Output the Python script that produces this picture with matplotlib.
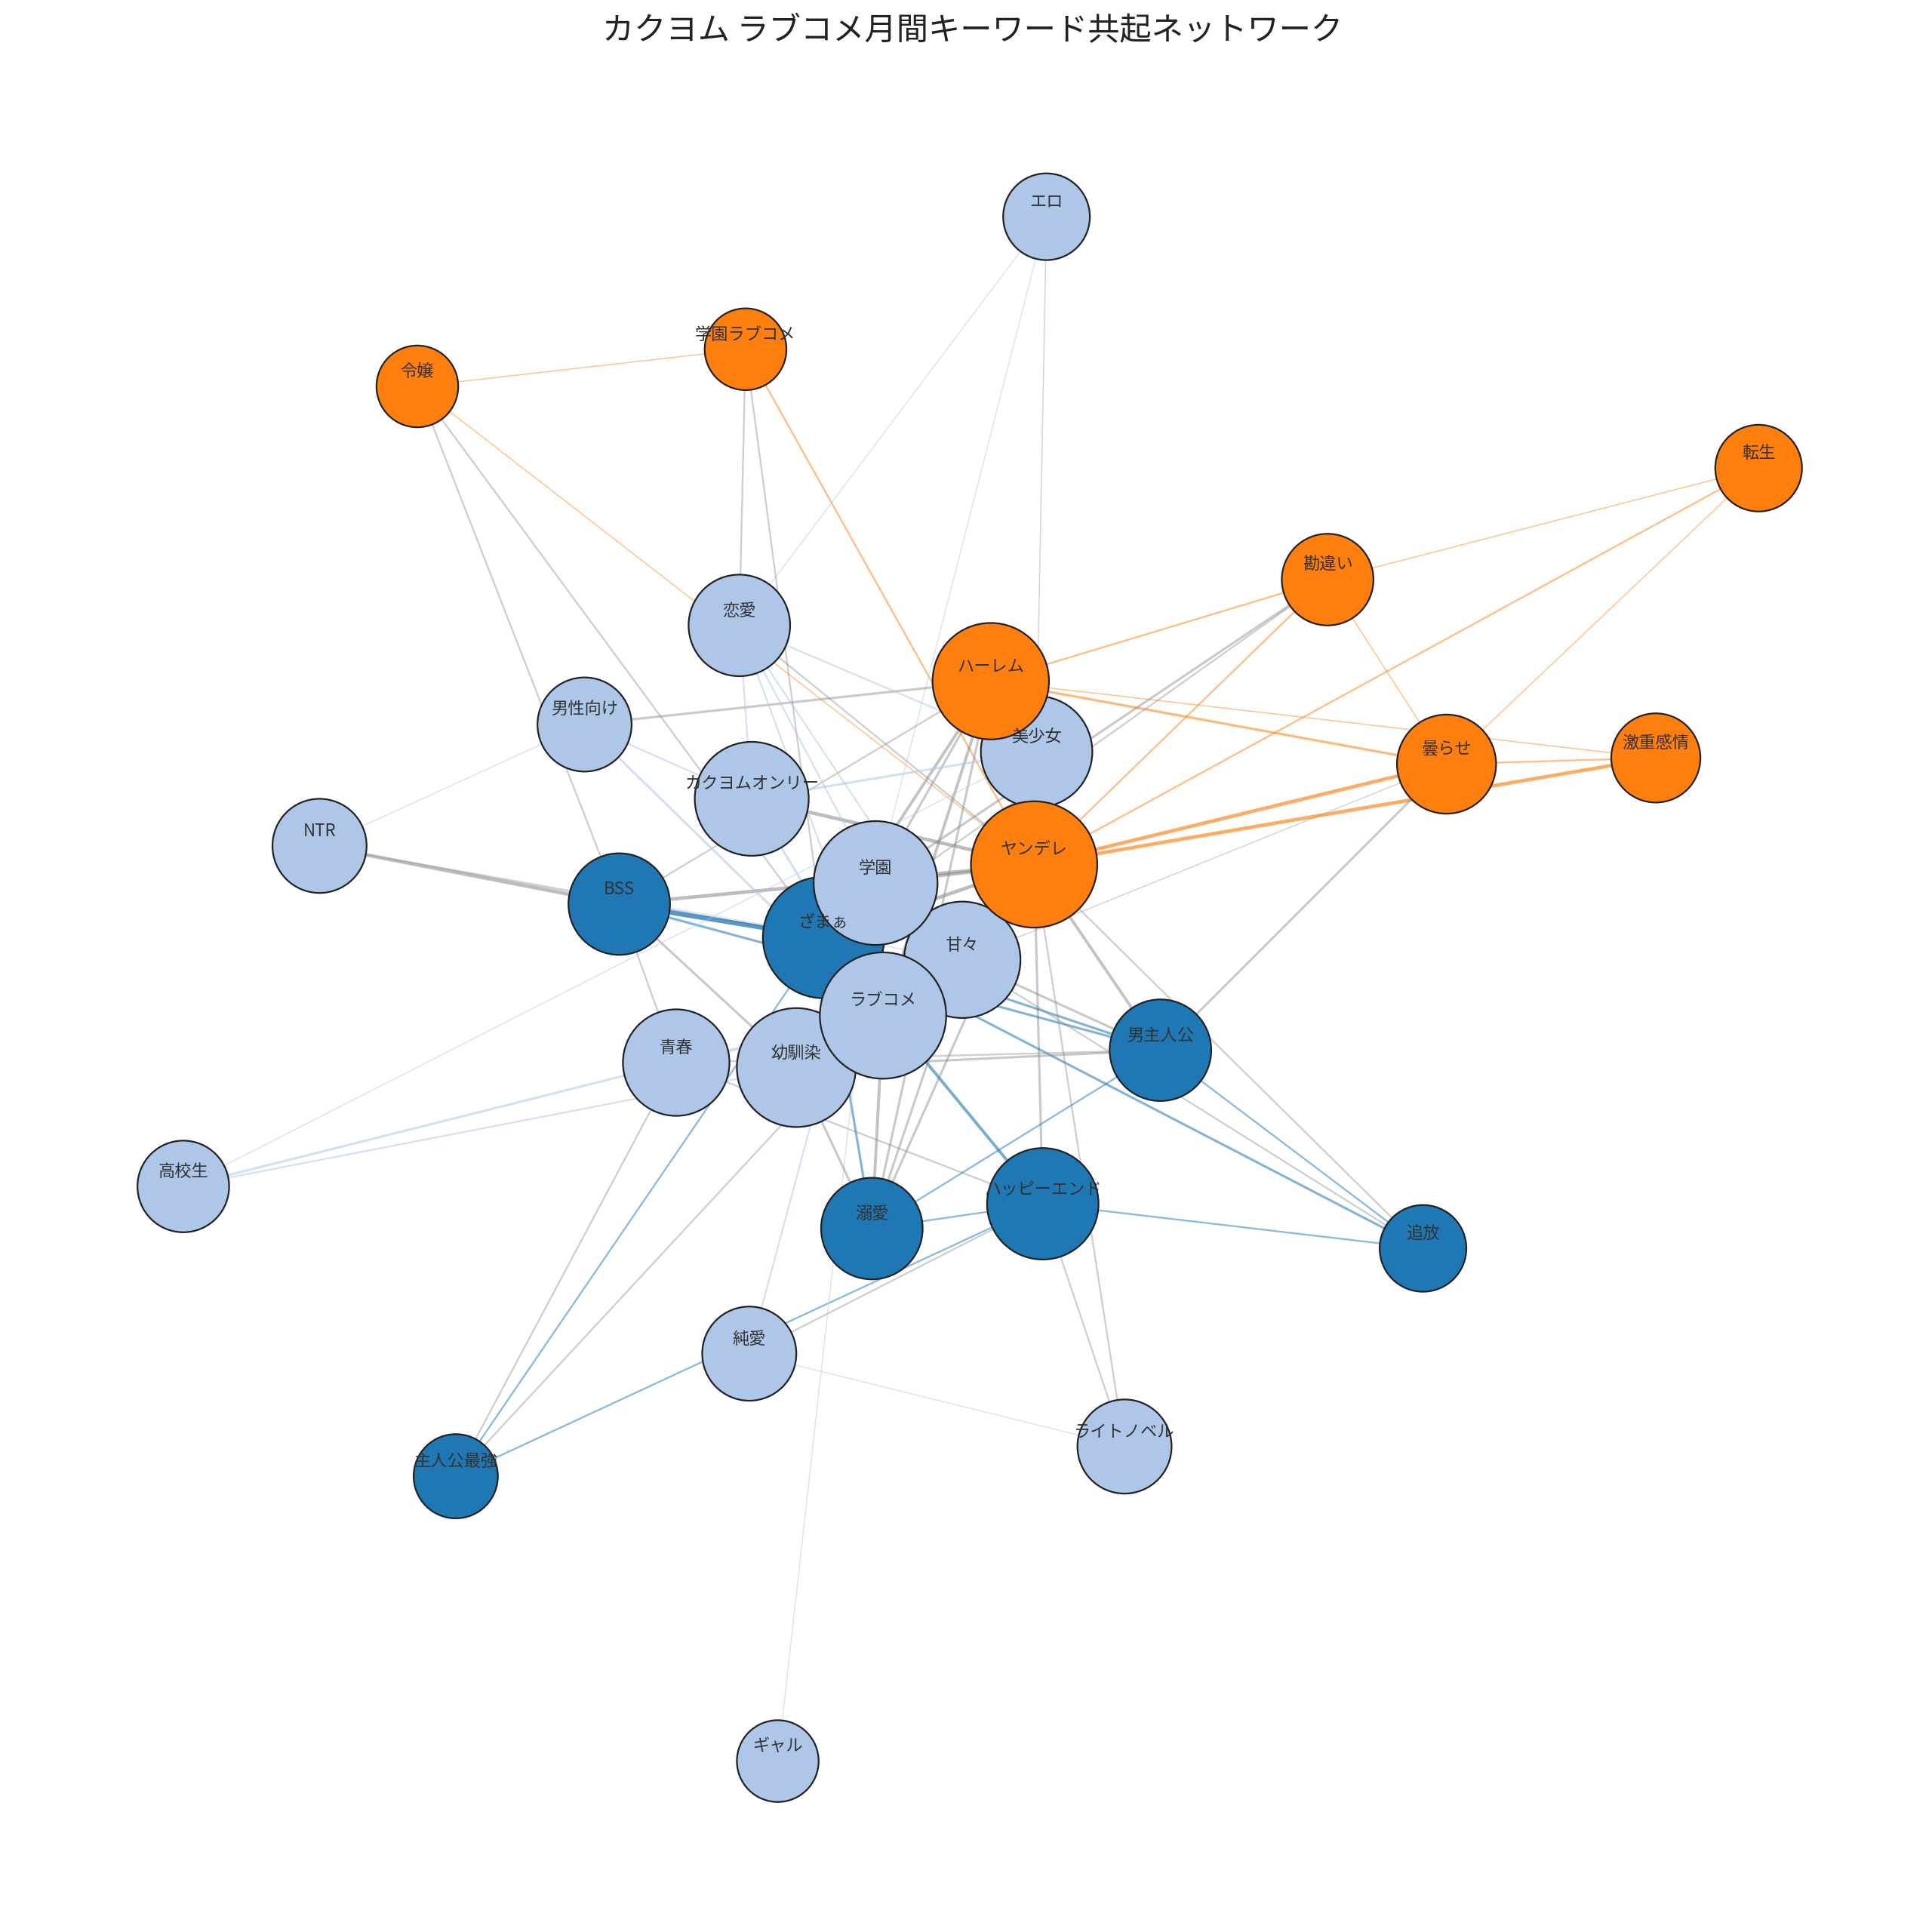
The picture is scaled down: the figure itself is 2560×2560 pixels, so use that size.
import matplotlib
matplotlib.use("Agg")
import matplotlib.pyplot as plt
from matplotlib.patches import Circle

plt.rcParams['font.family'] = ['Noto Sans CJK JP', 'DejaVu Sans']

names = ["エロ","学園ラブコメ","令嬢","転生","勘違い","恋愛","男性向け","美少女","曇らせ","激重感情",
         "カクヨムオンリー","NTR","BSS","ざまぁ","甘々","男主人公","青春","ハーレム","ヤンデレ","学園",
         "幼馴染","ラブコメ","高校生","ハッピーエンド","溺愛","追放","純愛","ライトノベル","主人公最強","ギャル"]
xs = [845,602,337,1420,1072,597,472,837,1168,1337,607,258,500,665,777,937,546,800,835,707,643,713,148,842,704,1149,605,908,368,628]
ys = [175,282,312,378,468,505,585,607,617,612,645,683,730,757,775,848,858,550,698,713,862,820,958,972,992,1008,1093,1168,1192,1422]
radii = [35,33,33,35,37,41,38,45,40,36,46,38,41,49,47,41,43,47,51,50,48,51,37,45,41,35,38,38,34,33]
groups = ["L","O","O","O","O","L","L","L","O","O","L","L","D","D","L","D","L","O","O","L","L","L","L","D","D","D","L","L","D","L"]

edges = [("令嬢","学園ラブコメ",1),("学園ラブコメ","ヤンデレ",1.5),("令嬢","ヤンデレ",1),("転生","勘違い",1),
 ("転生","ヤンデレ",1.5),("転生","曇らせ",1),("勘違い","ハーレム",1.5),("勘違い","曇らせ",1),("勘違い","ヤンデレ",1.5),
 ("ハーレム","曇らせ",2),("ハーレム","激重感情",1),("ヤンデレ","曇らせ",3),("ヤンデレ","激重感情",3),("曇らせ","激重感情",1.5),
 ("エロ","学園",1),("エロ","ヤンデレ",1),("エロ","恋愛",1),("学園ラブコメ","恋愛",1.5),("学園ラブコメ","ざまぁ",1.5),
 ("令嬢","ざまぁ",1.5),("令嬢","BSS",1.5),("勘違い","学園",2),("勘違い","ざまぁ",1.5),("曇らせ","男主人公",2),
 ("曇らせ","甘々",1),("ハーレム","男性向け",2),("ハーレム","ざまぁ",2.5),("ハーレム","ラブコメ",2.5),("ハーレム","学園",2),
 ("ハーレム","溺愛",2),("ハーレム","BSS",1.5),("ヤンデレ","BSS",3),("ヤンデレ","カクヨムオンリー",3),("ヤンデレ","ハッピーエンド",2),
 ("ヤンデレ","男主人公",2.5),("ヤンデレ","幼馴染",2.5),("ヤンデレ","溺愛",2),("ヤンデレ","恋愛",1.5),("NTR","BSS",3),
 ("NTR","男性向け",1),("NTR","ざまぁ",1.5),("NTR","甘々",1),("BSS","ざまぁ",4),("BSS","男主人公",2),("BSS","青春",1.5),
 ("BSS","幼馴染",2),("ざまぁ","男主人公",2),("ざまぁ","追放",2),("ざまぁ","溺愛",2),("ざまぁ","ハッピーエンド",2.5),
 ("ざまぁ","主人公最強",1.5),("ハッピーエンド","溺愛",1.5),("ハッピーエンド","追放",1.5),("ハッピーエンド","主人公最強",1.5),
 ("ハッピーエンド","純愛",1.5),("ハッピーエンド","ライトノベル",1.5),("ハッピーエンド","青春",1.5),("男主人公","追放",1.5),
 ("男主人公","溺愛",1.5),("男主人公","幼馴染",2),("男主人公","青春",1.5),("恋愛","カクヨムオンリー",1.5),("恋愛","学園",1.5),
 ("恋愛","美少女",1.5),("恋愛","甘々",1.5),("恋愛","ラブコメ",1.5),("男性向け","カクヨムオンリー",1.5),("男性向け","ラブコメ",2),
 ("学園","ラブコメ",3),("学園","甘々",3),("幼馴染","ラブコメ",3),("高校生","青春",2),("高校生","幼馴染",1.5),("高校生","美少女",1),
 ("純愛","ライトノベル",1),("純愛","学園",1.5),("ギャル","学園",1),("青春","ラブコメ",2.5),("美少女","カクヨムオンリー",2),
 ("甘々","溺愛",2),("ラブコメ","溺愛",2.5),("幼馴染","溺愛",2),("主人公最強","青春",1.5),("主人公最強","ラブコメ",1.5),
 ("追放","甘々",1.5),("追放","ヤンデレ",1.5),("ライトノベル","ヤンデレ",1.5),("ハーレム","美少女",2),("ヤンデレ","学園",3),
 ("ヤンデレ","ざまぁ",3),("ヤンデレ","甘々",3),("ヤンデレ","ラブコメ",3),("カクヨムオンリー","ラブコメ",2),("甘々","男主人公",2)]

colmap = {"L": "#aec7e8", "D": "#1f77b4", "O": "#ff7f0e"}
idx = {n: i for i, n in enumerate(names)}

fig = plt.figure(figsize=(16, 16), dpi=160)
ax = fig.add_axes([0, 0, 1, 1])
ax.set_xlim(0, 1560)
ax.set_ylim(1560, 0)
ax.set_aspect('equal')
ax.axis('off')

for a, b, w in edges:
    i, j = idx[a], idx[b]
    if groups[i] == groups[j]:
        c = colmap[groups[i]]
        al = 0.35 + 0.1 * w
    else:
        c = "#888888"
        al = 0.25 + 0.1 * w
    ax.plot([xs[i], xs[j]], [ys[i], ys[j]], color=c, lw=w * 0.7, alpha=min(al, 0.8), zorder=1,
            solid_capstyle='round')

for i in range(len(names)):
    ax.add_patch(Circle((xs[i], ys[i]), radii[i], facecolor=colmap[groups[i]], edgecolor="#222222",
                        lw=1.0, zorder=2))
for i in range(len(names)):
    ax.text(xs[i], ys[i] - 12, names[i], ha='center', va='center', fontsize=10, color="#333333", zorder=3)

ax.text(785, 25, "カクヨム ラブコメ月間キーワード共起ネットワーク", ha='center', va='center', fontsize=19, color="#222222")

fig.savefig("out.png", dpi=160)
